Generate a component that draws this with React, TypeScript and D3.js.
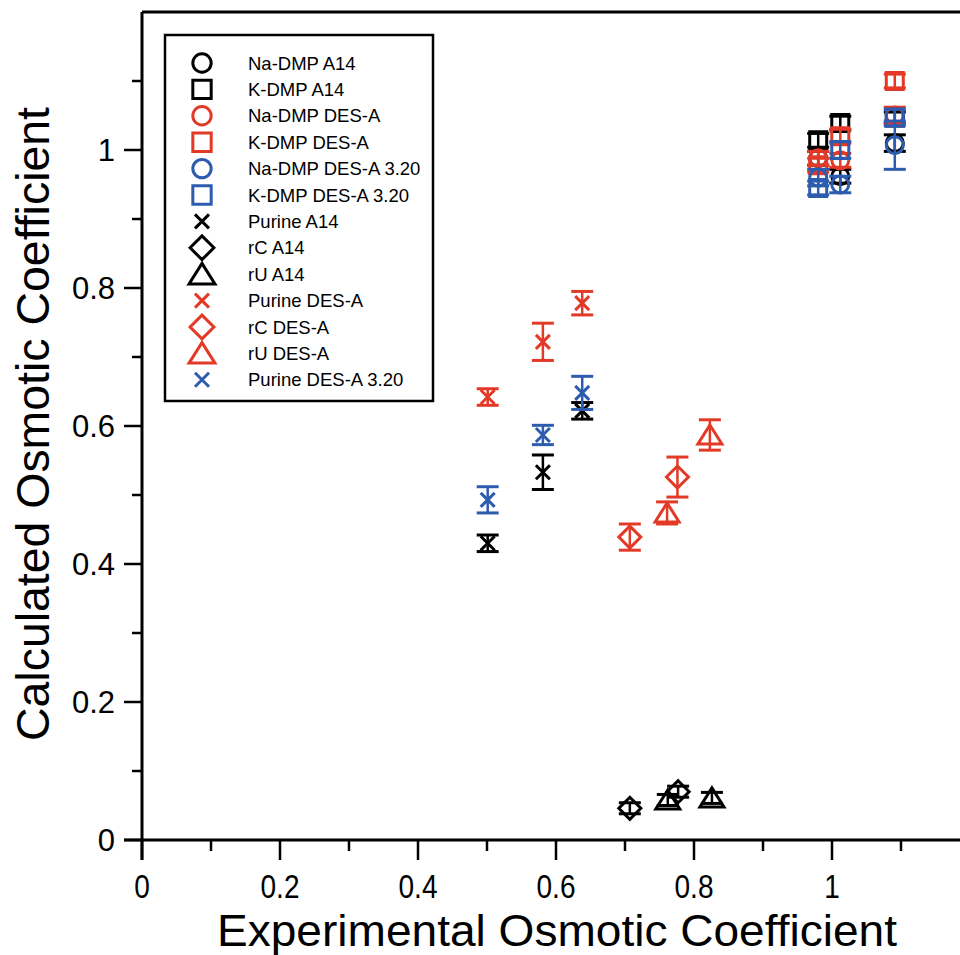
import React from 'react';
import * as d3 from 'd3';

const RED = '#e33a27';
const BLUE = '#2d5caf';
const BLACK = '#000000';

// [experimental, calculated, error]
const naDmpA14 = [[0.98, 0.988, 0.01], [1.012, 0.962, 0.01], [1.091, 1.01, 0.012]];
const kDmpA14 = [[0.98, 1.014, 0.01], [1.012, 1.039, 0.01], [1.091, 1.047, 0.008]];
const naDmpDesA = [[0.98, 0.988, 0.01], [1.012, 0.985, 0.01], [1.091, 1.05, 0.012]];
const kDmpDesA = [[0.98, 0.978, 0.01], [1.012, 1.02, 0.01], [1.091, 1.1, 0.01]];
const naDmpDesA320 = [[0.98, 0.96, 0.012], [1.012, 0.95, 0.012], [1.091, 1.007, 0.035]];
const kDmpDesA320 = [[0.98, 0.945, 0.01], [1.012, 1.0, 0.012], [1.091, 1.047, 0.012]];
const purineA14 = [[0.501, 0.43, 0.012], [0.581, 0.533, 0.025], [0.638, 0.622, 0.012]];
const rcA14 = [[0.707, 0.046, 0.008], [0.777, 0.07, 0.008]];
const ruA14 = [[0.762, 0.058, 0.008], [0.826, 0.061, 0.008]];
const purineDesA = [[0.501, 0.642, 0.012], [0.581, 0.722, 0.027], [0.638, 0.778, 0.017]];
const rcDesA = [[0.707, 0.439, 0.019], [0.776, 0.526, 0.029]];
const ruDesA = [[0.761, 0.474, 0.016], [0.823, 0.587, 0.022]];
const purineDesA320 = [[0.501, 0.493, 0.019], [0.581, 0.587, 0.014], [0.638, 0.648, 0.024]];

const seriesNames = [
  'Na-DMP A14', 'K-DMP A14', 'Na-DMP DES-A', 'K-DMP DES-A', 'Na-DMP DES-A 3.20',
  'K-DMP DES-A 3.20', 'Purine A14', 'rC A14', 'rU A14', 'Purine DES-A', 'rC DES-A',
  'rU DES-A', 'Purine DES-A 3.20',
];
const seriesColors = [BLACK, BLACK, RED, RED, BLUE, BLUE, BLACK, BLACK, BLACK, RED, RED, RED, BLUE];
const seriesShapes = ['circle', 'square', 'circle', 'square', 'circle', 'square', 'x', 'diamond', 'triangle', 'x', 'diamond', 'triangle', 'x'];
const seriesData = [naDmpA14, kDmpA14, naDmpDesA, kDmpDesA, naDmpDesA320, kDmpDesA320, purineA14, rcA14, ruA14, purineDesA, rcDesA, ruDesA, purineDesA320];

const majorTicks = [0, 0.2, 0.4, 0.6, 0.8, 1];
const xMinorTicks = [0.1, 0.3, 0.5, 0.7, 0.9, 1.1];
const yMinorTicks = [0.1, 0.3, 0.5, 0.7, 0.9, 1.1];
const tickLabels = ['0', '0.2', '0.4', '0.6', '0.8', '1'];

const x = d3.scaleLinear().domain([0, 1.2]).range([142, 970]);
const y = d3.scaleLinear().domain([0, 1.2]).range([840, 12]);

function shapePath(type: string, k = 1): string {
  if (type === 'circle') return d3.symbol(d3.symbolCircle, Math.PI * 8.5 * 8.5 * k * k)() as string;
  const s = 8.5 * k;
  if (type === 'square') return `M${-s},${-s}L${s},${-s}L${s},${s}L${-s},${s}Z`;
  const d = 11 * k;
  if (type === 'diamond') return `M0,${-d}L${d},0L0,${d}L${-d},0Z`;
  if (type === 'triangle') return `M0,${-10 * k}L${12 * k},${9 * k}L${-12 * k},${9 * k}Z`;
  return 'M-7,-7L7,7M-7,7L7,-7';
}

const FONT = 'Liberation Sans, Arial, Helvetica, sans-serif';

export default function App() {
  return (
    <svg width={960} height={955} style={{ position: 'absolute', left: 0, top: 0, background: '#fff' }}>
      <rect x={0} y={0} width={960} height={955} fill="#fff" />
      {/* frame */}
      <line x1={x(0)} x2={x(1.2)} y1={y(1.2)} y2={y(1.2)} stroke="#000" strokeWidth={3} />
      <line x1={x(0)} x2={x(0)} y1={y(1.2)} y2={y(0) + 20} stroke="#000" strokeWidth={3} />
      <line x1={x(0) - 18} x2={x(1.2)} y1={y(0)} y2={y(0)} stroke="#000" strokeWidth={3} />
      {/* y ticks */}
      {majorTicks.map((t, i) => (
        <g key={'ym' + i}>
          <line x1={x(0) - 18} x2={x(0)} y1={y(t)} y2={y(t)} stroke="#000" strokeWidth={2.5} />
          <text x={115} y={y(t) + 11} textAnchor="end" fontFamily={FONT} fontSize={31}>{tickLabels[i]}</text>
        </g>
      ))}
      {yMinorTicks.map((t, i) => (
        <line key={'yn' + i} x1={x(0) - 10} x2={x(0)} y1={y(t)} y2={y(t)} stroke="#000" strokeWidth={2.5} />
      ))}
      {/* x ticks */}
      {majorTicks.map((t, i) => (
        <g key={'xm' + i}>
          <line x1={x(t)} x2={x(t)} y1={y(0)} y2={y(0) + 20} stroke="#000" strokeWidth={2.5} />
          <text transform={`translate(${x(t)},898) scale(0.85,1)`} textAnchor="middle" fontFamily={FONT} fontSize={33}>{tickLabels[i]}</text>
        </g>
      ))}
      {xMinorTicks.map((t, i) => (
        <line key={'xn' + i} x1={x(t)} x2={x(t)} y1={y(0)} y2={y(0) + 11} stroke="#000" strokeWidth={2.5} />
      ))}
      {/* axis titles */}
      <text x={557} y={946} textAnchor="middle" fontFamily={FONT} fontSize={45} textLength={680} lengthAdjust="spacingAndGlyphs">Experimental Osmotic Coefficient</text>
      <text transform="translate(49,424) rotate(-90)" textAnchor="middle" fontFamily={FONT} fontSize={47} textLength={634} lengthAdjust="spacingAndGlyphs">Calculated Osmotic Coefficient</text>
      {/* data */}
      {seriesData.map((pts, si) => (
        <g key={'s' + si} stroke={seriesColors[si]} fill="none" strokeWidth={3}>
          {pts.map((p, pi) => {
            const cx = x(p[0]);
            const cy = y(p[1]);
            const y1 = y(p[1] + p[2]);
            const y2 = y(p[1] - p[2]);
            return (
              <g key={pi}>
                <line x1={cx} x2={cx} y1={y1} y2={y2} strokeWidth={2.5} />
                <line x1={cx - 11} x2={cx + 11} y1={y1} y2={y1} />
                <line x1={cx - 11} x2={cx + 11} y1={y2} y2={y2} />
                <path d={shapePath(seriesShapes[si])} transform={`translate(${cx},${cy})`} />
              </g>
            );
          })}
        </g>
      ))}
      {/* legend */}
      <rect x={165} y={35} width={268} height={366} fill="#fff" stroke="#000" strokeWidth={2.5} />
      {seriesNames.map((name, i) => {
        const ry = 63 + i * 26.4;
        return (
          <g key={'l' + i}>
            <path d={shapePath(seriesShapes[i], 1.08)} transform={`translate(202,${ry})`} stroke={seriesColors[i]} fill="none" strokeWidth={3} />
            <text x={248} y={ry + 6.5} fontFamily={FONT} fontSize={18.5}>{name}</text>
          </g>
        );
      })}
    </svg>
  );
}
